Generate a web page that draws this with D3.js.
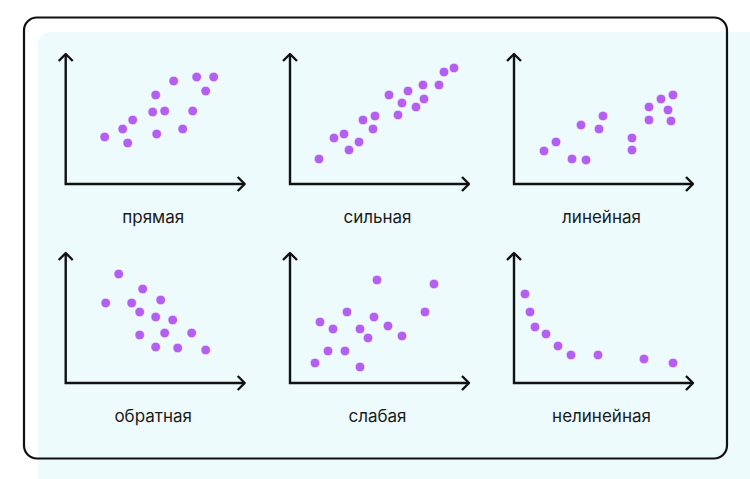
<!DOCTYPE html>
<html>
<head>
<meta charset="utf-8">
<script src="https://cdn.jsdelivr.net/npm/d3@7"></script>
<style>
  body { margin: 0; background: #ffffff; }
  svg { display: block; }
</style>
</head>
<body>
<script>
// panel names
var labels = ["прямая", "сильная", "линейная", "обратная", "слабая", "нелинейная"];

// points for each panel: [x, y] measured from the axis origin
var pryamaya = [[39,47],[57,55],[62,41],[67,64],[87,72],[90,89],[99,73],[91,50],[108,103],[117,55],[127,73],[131,107],[140,93],[148,107]];
var silnaya = [[29,25],[44,46],[54,50],[59,34],[69,42],[73,64],[85,68],[83,55],[99,89],[108,69],[112,81],[118,93],[126,77],[133,99],[134,85],[149,99],[154,112],[164,116]];
var lineynaya = [[30,33],[42,42],[58,25],[72,24],[67,59],[85,55],[89,68],[118,46],[118,34],[135,77],[135,64],[147,85],[154,74],[159,89],[157,63]];
var obratnaya = [[53,109],[40,80],[77,94],[66,80],[95,83],[74,71],[90,66],[107,63],[74,48],[99,50],[126,50],[90,36],[112,35],[140,33]];
var slabaya = [[87,103],[144,99],[57,71],[135,71],[30,61],[84,66],[43,54],[70,54],[98,57],[78,45],[112,47],[38,32],[55,32],[25,20],[70,16]];
var nelineynaya = [[11,89],[16,71],[21,56],[32,49],[44,37],[57,28],[84,28],[130,24],[159,20]];

var series = [pryamaya, silnaya, lineynaya, obratnaya, slabaya, nelineynaya];

var W = 750, H = 479;
var svg = d3.select("body").append("svg")
  .attr("width", W)
  .attr("height", H);

// light blue card, runs off the right/bottom edge
svg.append("rect")
  .attr("x", 38).attr("y", 32)
  .attr("width", 760).attr("height", 500)
  .attr("rx", 12)
  .attr("fill", "#edfbfd");

// black frame
svg.append("rect")
  .attr("x", 24).attr("y", 17.5)
  .attr("width", 703).attr("height", 441)
  .attr("rx", 13)
  .attr("fill", "none")
  .attr("stroke", "#111")
  .attr("stroke-width", 2.2);

var originsX = [65.7, 290, 514];
var originsY = [184, 383];
var axLen = 179, axH = 130;

series.forEach(function(pts, i) {
  var ox = originsX[i % 3], oy = originsY[Math.floor(i / 3)];
  var x = d3.scaleLinear().domain([0, axLen]).range([ox, ox + axLen]);
  var y = d3.scaleLinear().domain([0, axH]).range([oy, oy - axH]);
  var g = svg.append("g");

  // axes
  g.append("path")
    .attr("d", "M" + x(0) + "," + y(axH) + "V" + y(0) + "H" + x(axLen))
    .attr("fill", "none").attr("stroke", "#111").attr("stroke-width", 2.4);
  // arrow heads
  g.append("path")
    .attr("d", "M" + (x(0) - 7) + "," + (y(axH) + 7) + "L" + x(0) + "," + y(axH) + "L" + (x(0) + 7) + "," + (y(axH) + 7))
    .attr("fill", "none").attr("stroke", "#111").attr("stroke-width", 2.4).attr("stroke-linejoin", "round");
  g.append("path")
    .attr("d", "M" + (x(axLen) - 7) + "," + (y(0) - 7) + "L" + x(axLen) + "," + y(0) + "L" + (x(axLen) - 7) + "," + (y(0) + 7))
    .attr("fill", "none").attr("stroke", "#111").attr("stroke-width", 2.4).attr("stroke-linejoin", "round");

  g.selectAll("circle")
    .data(pts)
    .enter()
    .append("circle")
    .attr("cx", function(d) { return x(d[0]); })
    .attr("cy", function(d) { return y(d[1]); })
    .attr("r", 4.8)
    .attr("fill", "#b35ff2")
    .attr("stroke", "#ffffff")
    .attr("stroke-opacity", 0.6)
    .attr("stroke-width", 1);

  g.append("text")
    .attr("x", x(axLen / 2) - 2)
    .attr("y", oy + 39)
    .attr("text-anchor", "middle")
    .attr("font-family", "Inter, sans-serif")
    .attr("font-size", 17)
    .attr("fill", "#1a1a1a")
    .text(labels[i]);
});
</script>
</body>
</html>
